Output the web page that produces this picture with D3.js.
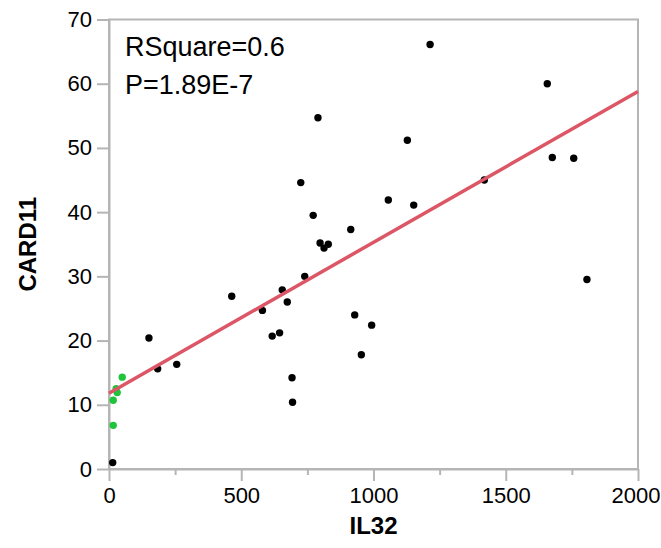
<!DOCTYPE html>
<html>
<head>
<meta charset="utf-8">
<script src="https://cdn.jsdelivr.net/npm/d3@7"></script>
<style>
  html, body { margin: 0; padding: 0; background: #fff; }
  svg { display: block; font-family: "Liberation Sans", Arial, Helvetica, sans-serif; }
</style>
</head>
<body>
<svg id="chart" width="661" height="548"></svg>
<script>
// ---- data ----
const blackX = [1214, 1657, 790, 1128, 1676, 1757, 1807, 1419, 725, 772, 1056, 1152, 914, 798, 813, 829, 740,
                655, 464, 580, 674, 929, 993, 617, 645, 954, 692, 694, 151, 184, 256, 14];
const blackY = [66.1, 60.0, 54.7, 51.2, 48.5, 48.4, 29.5, 45.0, 44.6, 39.5, 41.9, 41.1, 37.3, 35.2, 34.4, 35.0, 30.0,
                27.9, 26.9, 24.7, 26.0, 24.0, 22.4, 20.7, 21.2, 17.8, 14.2, 10.4, 20.4, 15.6, 16.3, 1.0];
const greenX = [50, 27, 31, 16, 16];
const greenY = [14.3, 12.5, 11.9, 10.7, 6.8];
const fitIntercept = 11.8;
const fitSlope = 0.0235;
const xTicks = [0, 500, 1000, 1500, 2000];
const xMinorTicks = [250, 750, 1250, 1750];
const yTicks = [0, 10, 20, 30, 40, 50, 60, 70];
const annotations = ["RSquare=0.6", "P=1.89E-7"];
const xTitle = "IL32";
const yTitle = "CARD11";

// ---- layout ----
const mLeft = 109, mRight = 638, mTop = 19.5, mBottom = 469;
const svg = d3.select("#chart");
const x = d3.scaleLinear().domain([0, 2000]).range([mLeft, mRight]);
const y = d3.scaleLinear().domain([0, 70]).range([mBottom, mTop]);
const gray = "#b5b5b5";

// frame
svg.append("rect")
  .attr("x", mLeft).attr("y", mTop)
  .attr("width", mRight - mLeft).attr("height", mBottom - mTop)
  .attr("fill", "none").attr("stroke", gray).attr("stroke-width", 2);

// x axis
const gx = svg.append("g").attr("transform", `translate(0,${mBottom})`)
  .call(d3.axisBottom(x).tickValues(xTicks).tickSize(12).tickSizeOuter(0).tickPadding(6).tickFormat(d3.format("d")));
gx.selectAll(".tick text").attr("font-size", 22).attr("fill", "#000").style("font-family", "'Liberation Sans', Arial, sans-serif");
// keep the last label inside the canvas
gx.selectAll(".tick text").filter(d => d === 2000).attr("text-anchor", "end").attr("dx", 22);
svg.append("g").attr("transform", `translate(0,${mBottom})`)
  .call(d3.axisBottom(x).tickValues(xMinorTicks).tickSize(6).tickSizeOuter(0).tickFormat(""))
  .select(".domain").remove();

// y axis
const gy = svg.append("g").attr("transform", `translate(${mLeft},0)`)
  .call(d3.axisLeft(y).tickValues(yTicks).tickSize(12).tickSizeOuter(0).tickPadding(5));
gy.selectAll(".tick text").attr("font-size", 22).attr("fill", "#000").style("font-family", "'Liberation Sans', Arial, sans-serif");

svg.selectAll(".domain").attr("stroke", gray).attr("stroke-width", 2);
svg.selectAll(".tick line").attr("stroke", gray).attr("stroke-width", 2);

// points
const black = blackX.map((d, i) => ({x: d, y: blackY[i]}));
const green = greenX.map((d, i) => ({x: d, y: greenY[i]}));
svg.append("g").selectAll("circle").data(black).join("circle")
  .attr("cx", d => x(d.x)).attr("cy", d => y(d.y)).attr("r", 3.7).attr("fill", "#000");
svg.append("g").selectAll("circle").data(green).join("circle")
  .attr("cx", d => x(d.x)).attr("cy", d => y(d.y)).attr("r", 3.7).attr("fill", "#1fc43a");

// regression line
const line = d3.line().x(d => x(d)).y(d => y(fitIntercept + fitSlope * d));
svg.append("path").datum([0, 2000]).attr("d", line)
  .attr("fill", "none").attr("stroke", "#dc5666").attr("stroke-width", 3.5);

// annotations
svg.append("g").selectAll("text").data(annotations).join("text")
  .attr("x", 125).attr("y", (d, i) => 55.5 + i * 38)
  .attr("font-size", 27).attr("fill", "#000").text(d => d);

// titles
svg.append("text").attr("x", (mLeft + mRight) / 2).attr("y", 534)
  .attr("text-anchor", "middle").attr("font-size", 24).attr("font-weight", "bold").text(xTitle);
svg.append("text").attr("transform", `translate(36,${(mTop + mBottom) / 2}) rotate(-90)`)
  .attr("text-anchor", "middle").attr("font-size", 24).attr("font-weight", "bold").text(yTitle);
</script>
</body>
</html>
